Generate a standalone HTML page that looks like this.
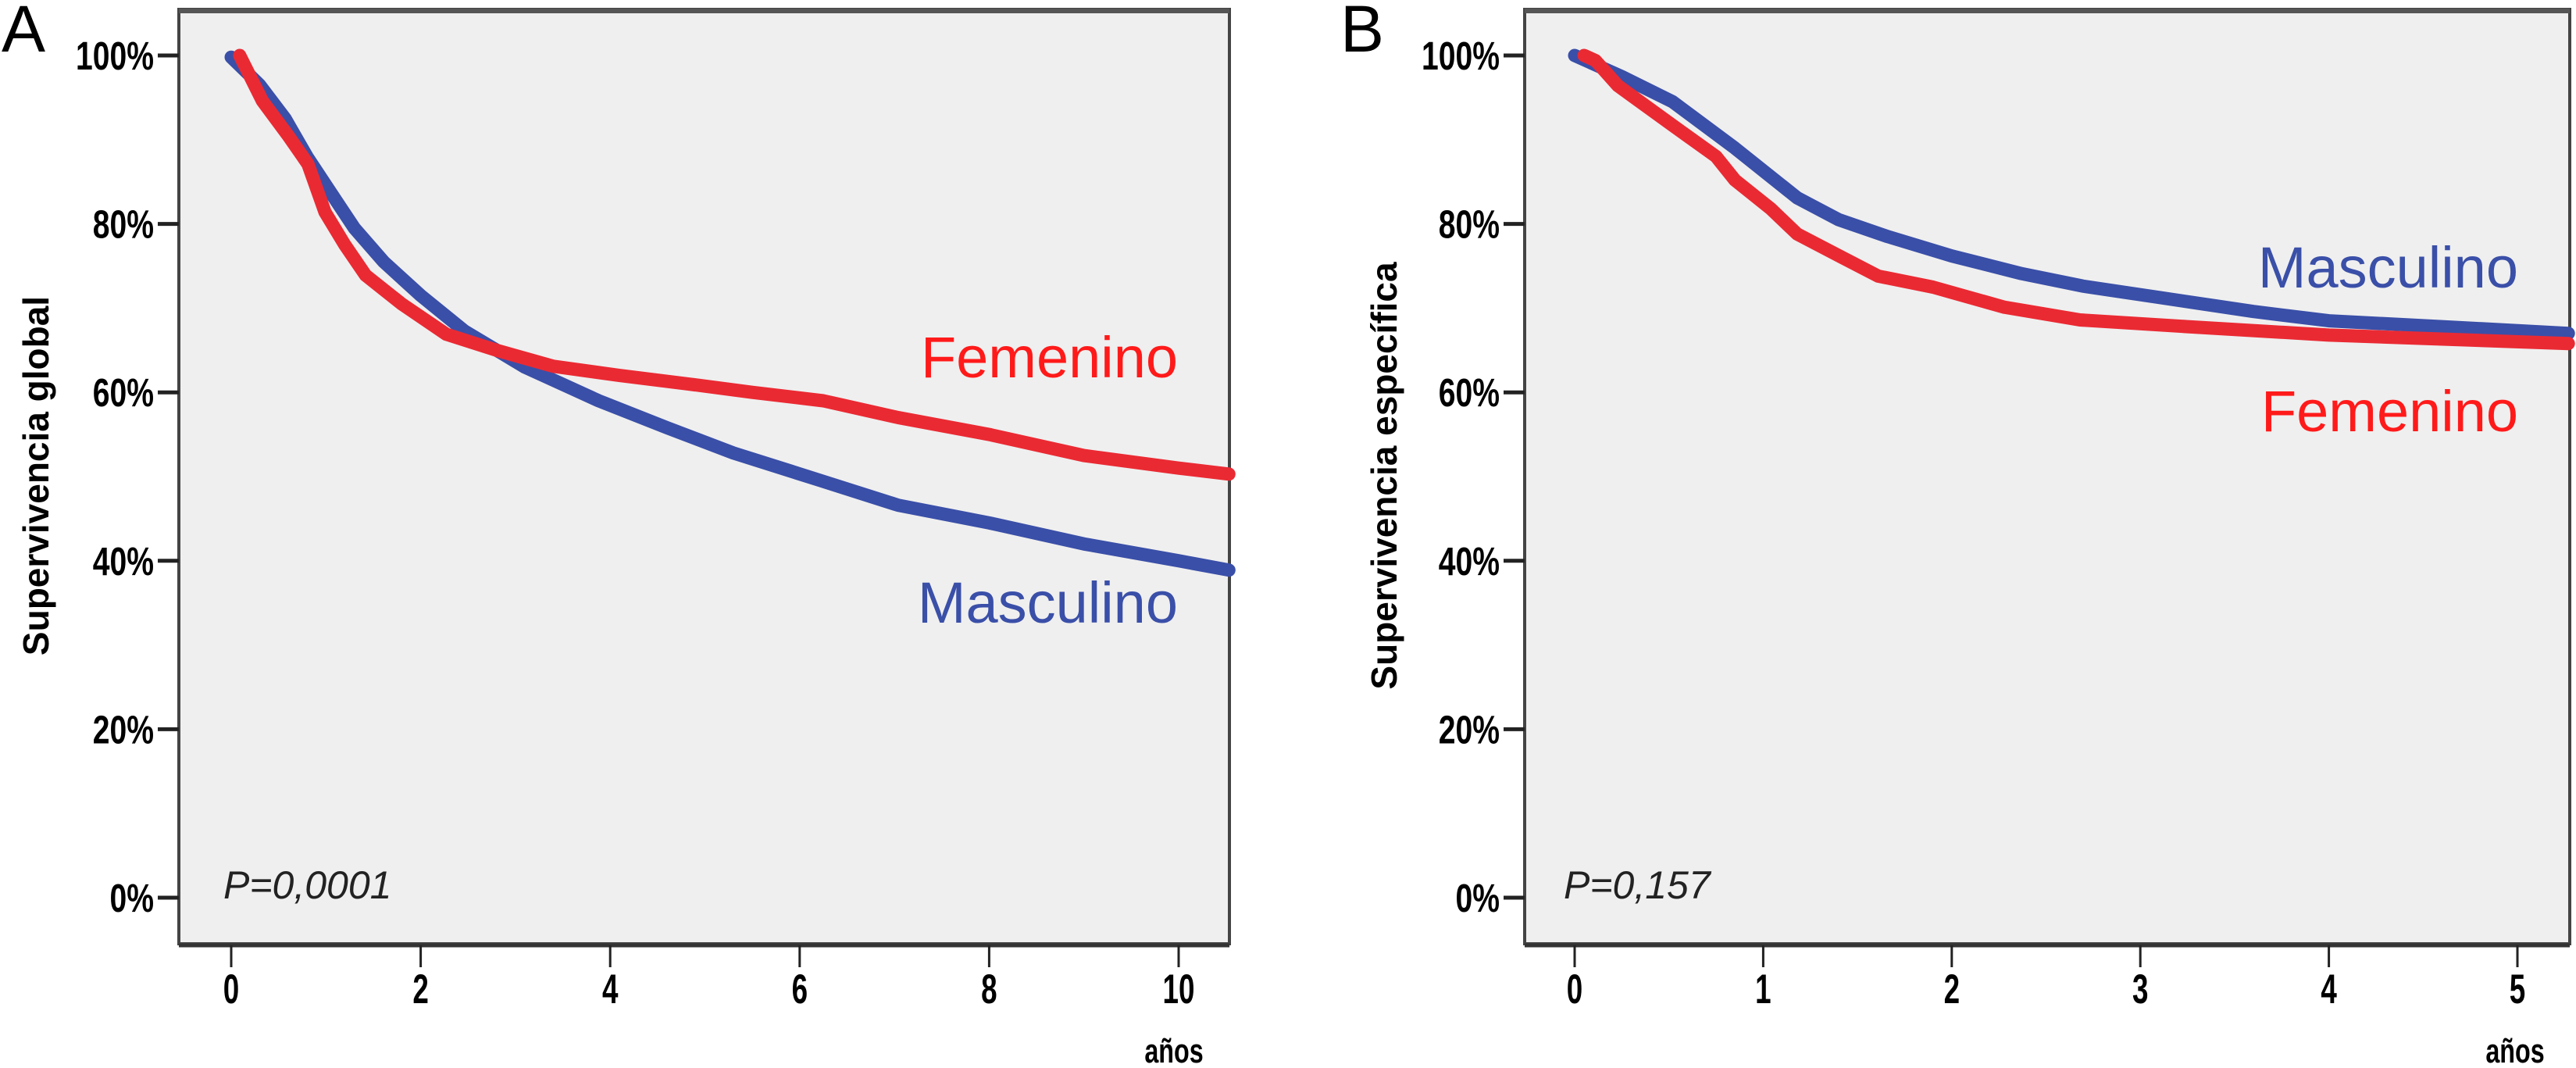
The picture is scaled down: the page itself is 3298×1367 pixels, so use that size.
<!DOCTYPE html>
<html><head><meta charset="utf-8"><style>
html,body{margin:0;padding:0;background:#fff;}
svg{display:block;}
text{font-family:"Liberation Sans",sans-serif;}
</style></head><body>
<svg id="fig" width="3298" height="1367" viewBox="0 0 3298 1367" xmlns="http://www.w3.org/2000/svg"></svg>
<script>
// Panel A data (overall survival)
const aTicksX = [0,2,4,6,8,10];
const aTimesF = [0.09,0.33,0.6,0.81,0.99,1.2,1.42,1.8,2.27,2.8,3.4,4.1,4.82,5.5,6.25,7.04,8,9,10,10.53];
const aValsF  = [100,94.6,90.5,87.1,81.4,77.5,73.9,70.5,66.9,65,63.1,62,61,60,59,57,55,52.5,51,50.3];
const aTimesM = [0,0.3,0.57,0.8,1.04,1.3,1.61,2.0,2.46,3.1,3.88,4.6,5.3,6.2,7.04,8,9,10,10.53];
const aValsM  = [99.8,96.5,92.5,88,83.9,79.5,75.5,71.5,67.3,63,59,55.8,52.8,49.6,46.6,44.5,42,40,38.9];
// Panel B data (specific survival)
const bTicksX = [0,1,2,3,4,5];
const bTimesF = [0.05,0.11,0.23,0.52,0.75,0.85,1.04,1.18,1.42,1.61,1.9,2.28,2.68,3.25,4,5.27];
const bValsF  = [100,99.4,96.4,91.7,88,85.2,81.8,78.8,76,73.8,72.5,70.1,68.6,67.8,66.8,65.8];
const bTimesM = [0,0.25,0.52,0.85,1.18,1.4,1.66,2.0,2.37,2.7,3.09,3.6,4,4.6,5.27];
const bValsM  = [100,97.5,94.5,89,83.1,80.5,78.5,76.2,74.1,72.6,71.3,69.6,68.5,67.8,67];
const yTicks = [0,20,40,60,80,100];
const yTickLabels = ["0%","20%","40%","60%","80%","100%"];

const NS="http://www.w3.org/2000/svg";
const svg=document.getElementById('fig');
function mk(tag,attrs,parent,txt){const e=document.createElementNS(NS,tag);for(const k in attrs)e.setAttribute(k,attrs[k]);if(txt!==undefined)e.textContent=txt;(parent||svg).appendChild(e);return e;}

function panel(o){
  const g=mk('g',{});
  
  
  const xS=t=>o.x0+t*o.pxPerUnit;
  const yS=v=>1149-v*10.78;
  const bg=mk('rect',{x:o.left,y:12,width:o.right-o.left,height:1196,fill:'#efefef',stroke:'#444','stroke-width':4},g);
  
  
  mk('line',{x1:o.left,y1:1210,x2:o.right,y2:1210,stroke:'#333','stroke-width':5},g);
  mk('line',{x1:o.left,y1:14,x2:o.right,y2:14,stroke:'#555','stroke-width':6},g);
  yTicks.forEach((v,i)=>{
    const y=yS(v);
    const tk=mk('line',{x1:o.left-27,y1:y,x2:o.left,y2:y,stroke:'#222','stroke-width':5},g);
    
    
    const lb=mk('text',{x:0,y:0,transform:`translate(${o.left-32},${y+18}) scale(0.85,1.1)`,'text-anchor':'end','font-size':46,'font-weight':'bold',fill:'#000'},g,yTickLabels[i]);
    
    
  });
  o.ticksX.forEach(t=>{
    const x=xS(t);
    const tk=mk('line',{x1:x,y1:1210,x2:x,y2:1238,stroke:'#222','stroke-width':3},g);
    
    
    const lb=mk('text',{x:0,y:0,transform:`translate(${x},1284) scale(0.8,1.15)`,'text-anchor':'middle','font-size':46,'font-weight':'bold',fill:'#000'},g,String(t));
    
    
  });
  const xt=mk('text',{x:0,y:0,transform:`translate(${o.anosX},1360) scale(0.85,1.15)`,'text-anchor':'middle','font-size':38,'font-weight':'bold',fill:'#000'},g,'años');
  
  
  const yt=mk('text',{x:0,y:0,transform:`translate(${o.ytX},609) rotate(-90)`,'text-anchor':'middle','font-size':46,'font-weight':'bold',fill:'#000'},g,o.ytitle);
  
  
  const pl=mk('text',{x:o.pX,y:1150,'font-size':50,'font-style':'italic',fill:'#222'},g,o.pText);
  
  
  const lt=mk('text',{x:o.letterX,y:66,'font-size':84,fill:'#000'},g,o.letter);
  
  
  const series=[[o.tM,o.vM,'#3a4fa8','masculino-curve'],[o.tF,o.vF,'#ea2a33','femenino-curve']];
  series.forEach(s=>{
    const pts=s[0].map((t,i)=>xS(t).toFixed(1)+','+yS(s[1][i]).toFixed(1)).join(' ');
    const p=mk('polyline',{points:pts,fill:'none',stroke:s[2],'stroke-width':17,'stroke-linejoin':'round','stroke-linecap':'round'},g);
    
    
  });
  const f=mk('text',{x:o.labEnd,y:o.fY,'text-anchor':'end','font-size':74,fill:'#ff1a1a'},g,'Femenino');
  
  
  const m=mk('text',{x:o.labEnd,y:o.mY,'text-anchor':'end','font-size':74,fill:'#3a4fa8'},g,'Masculino');
  
  
}

panel({name:'panel-a',left:229,right:1574,x0:296,pxPerUnit:121.3,ticksX:aTicksX,tF:aTimesF,vF:aValsF,tM:aTimesM,vM:aValsM,
  anosX:1503,ytX:62,ytitle:'Supervivencia global',pX:286,pText:'P=0,0001',letterX:2,letter:'A',labEnd:1508,fY:483,mY:797});
panel({name:'panel-b',left:1952,right:3290,x0:2016,pxPerUnit:241.4,ticksX:bTicksX,tF:bTimesF,vF:bValsF,tM:bTimesM,vM:bValsM,
  anosX:3220,ytX:1788,ytitle:'Supervivencia específica',pX:2002,pText:'P=0,157',letterX:1716,letter:'B',labEnd:3224,fY:552,mY:368});
</script>
</body></html>
